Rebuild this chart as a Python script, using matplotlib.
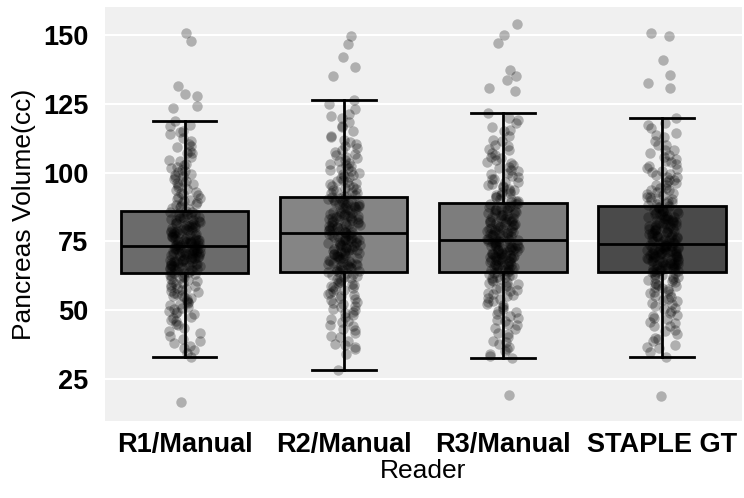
import numpy as np
import pandas as pd
import matplotlib
matplotlib.use('Agg')
import matplotlib.pyplot as plt
import seaborn as sns

readers = ['R1/Manual', 'R2/Manual', 'R3/Manual', 'STAPLE GT']

# volumes (cc), per reader
r1 = [150.7, 147.6, 131.2, 128.6, 127.9, 124.1, 123.4, 118.5, 116.8, 115.2, 113.9, 112.6,
      110.4, 109.1, 107.8, 106.9, 104.7, 103.2, 101.9, 100.8, 100.1, 99.4, 98.7, 97.6,
      96.8, 95.9, 94.7, 93.8, 92.6, 91.9, 90.8, 90.1, 89.3, 88.6, 87.9, 87.2, 86.6,
      86.2, 87.5, 88.1, 89.0, 89.7, 90.4, 91.3, 92.2, 93.1, 94.2, 95.3, 96.2, 97.1, 98.2,
      99.0, 100.4, 101.5, 102.6, 104.0, 105.6, 107.2, 109.6, 111.5, 114.6, 117.4,
      85.4, 84.9, 84.3, 83.8, 83.1, 82.7, 82.2, 81.6, 81.1, 80.7, 80.2, 79.8, 79.3, 78.9,
      78.4, 78.0, 77.6, 77.1, 76.7, 76.3, 75.9, 75.6, 75.2, 74.8, 74.5, 74.1, 73.8, 73.5,
      85.7, 83.5, 80.9, 79.1, 77.3, 75.4, 74.3, 73.6,
      72.9, 72.6, 72.2, 71.9, 71.5, 71.2, 70.8, 70.5, 70.1, 69.8, 69.4, 69.1, 68.7, 68.3,
      67.9, 67.6, 67.2, 66.8, 66.4, 66.1, 65.7, 65.3, 64.9, 64.5, 64.1, 63.7, 72.4, 71.0,
      69.6, 68.1, 66.6, 65.0, 63.9, 70.3, 67.4, 72.8,
      63.6, 64.3, 64.8, 65.2, 65.9, 66.3, 66.9, 67.3, 67.7, 68.0, 68.5, 68.9, 69.3, 69.7,
      70.0, 70.4, 70.7, 71.1, 71.4, 71.7, 72.1, 72.3, 72.7, 73.0, 73.3, 73.7, 74.0, 74.4,
      74.7, 75.0, 75.3, 75.7, 76.0, 76.5, 76.9, 77.4, 77.8, 78.2, 78.7, 79.0, 79.5, 80.0,
      80.4, 80.9, 81.3, 81.8, 82.4, 82.9, 83.4, 84.0, 84.6, 85.1, 85.6, 68.4, 70.9, 73.4,
      75.8, 78.5, 66.0, 71.3,
      63.1, 62.6, 62.0, 61.4, 60.7, 60.1, 59.3, 58.6, 57.9, 57.2, 56.4, 55.6, 54.9, 54.1,
      53.2, 52.3, 51.4, 50.6, 49.5, 48.6, 47.3, 46.2, 45.1, 43.8, 42.4, 40.9, 39.6, 38.2,
      37.0, 35.8, 34.4, 33.3, 16.7,
      63.0, 62.4, 61.8, 61.1, 60.4, 59.7, 58.9, 58.2, 57.5, 56.8, 56.0, 55.2, 54.4, 53.6,
      52.7, 51.8, 50.9, 49.9, 48.9, 47.8, 46.6, 44.6, 42.0, 39.1, 36.4]
r2 = [149.6, 146.4, 142.0, 138.4, 135.1, 126.4, 124.8, 122.9, 121.3, 119.6, 118.2, 116.5,
      114.9, 113.4, 111.8, 110.3, 108.9, 107.6, 106.2, 105.1, 104.0, 103.1, 102.2, 101.3,
      100.4, 99.6, 98.7, 97.9, 97.0, 96.2, 95.5, 94.8, 94.0, 93.3, 92.6, 92.0, 91.6,
      91.8, 92.4, 93.0, 93.7, 94.4, 95.1, 95.8, 96.6, 97.4, 98.2, 99.1, 99.9, 100.8, 101.7,
      102.7, 103.6, 104.6, 105.7, 106.8, 108.1, 109.5, 111.1, 113.0, 116.9, 120.4,
      91.0, 90.5, 89.9, 89.4, 88.8, 88.2, 87.7, 87.1, 86.6, 86.0, 85.5, 84.9, 84.4, 83.8,
      83.3, 82.7, 82.2, 81.6, 81.1, 80.6, 80.1, 79.6, 79.1, 78.6, 78.2, 90.2, 87.4, 84.1,
      82.9, 80.9, 79.3, 78.4, 85.2, 88.5, 81.8, 83.6,
      77.6, 77.2, 76.8, 76.3, 75.9, 75.4, 75.0, 74.5, 74.1, 73.6, 73.2, 72.7, 72.2, 71.8,
      71.3, 70.8, 70.3, 69.8, 69.3, 68.8, 68.3, 67.8, 67.3, 66.7, 66.2, 65.6, 65.0, 64.4,
      76.1, 73.9, 71.5, 69.0, 66.9, 74.8, 70.6, 64.8,
      64.3, 64.9, 65.4, 66.0, 66.5, 67.1, 67.6, 68.1, 68.6, 69.1, 69.6, 70.1, 70.5, 71.0,
      71.5, 72.0, 72.4, 72.9, 73.4, 73.8, 74.3, 74.7, 75.2, 75.7, 76.1, 76.6, 77.0, 77.4,
      77.8, 78.3, 78.8, 79.4, 79.9, 80.4, 80.9, 81.4, 81.9, 82.5, 83.0, 83.5, 84.1, 84.6,
      85.1, 85.7, 86.3, 86.8, 87.4, 87.9, 88.5, 89.1, 89.7, 90.3, 90.9, 70.9, 75.5, 79.8,
      84.3, 88.0, 67.0, 73.0,
      63.8, 63.2, 62.5, 61.9, 61.2, 60.4, 59.7, 58.9, 58.1, 57.3, 56.4, 55.5, 54.6, 53.7,
      52.8, 51.7, 50.6, 49.4, 48.2, 47.0, 45.8, 44.5, 43.1, 41.9, 40.4, 39.0, 38.0, 36.8,
      36.0, 34.2, 28.3,
      63.9, 63.4, 62.8, 62.1, 61.5, 60.8, 60.1, 59.3, 58.5, 57.7, 56.9, 56.0, 55.1, 54.2,
      53.2, 52.2, 51.1, 50.1, 48.9, 47.6, 46.2, 44.8, 42.9, 40.9, 37.4]
r3 = [154.0, 150.0, 147.1, 137.3, 135.1, 133.7, 130.8, 129.7, 121.7, 119.8, 118.1, 116.6,
      114.9, 113.2, 111.7, 110.1, 108.6, 107.2, 105.8, 104.5, 103.3, 102.1, 100.9, 99.8,
      98.7, 97.7, 96.6, 95.6, 94.6, 93.7, 92.8, 91.9, 91.1, 90.3, 89.6, 89.0,
      89.2, 89.8, 90.5, 91.2, 91.9, 92.6, 93.4, 94.2, 95.0, 95.8, 96.7, 97.6, 98.5, 99.5,
      100.5, 101.6, 102.7, 103.9, 105.2, 106.5, 108.0, 109.6, 111.4, 115.5, 118.9,
      88.5, 88.0, 87.5, 87.0, 86.5, 86.0, 85.5, 85.0, 84.5, 84.0, 83.4, 82.9, 82.4, 81.9,
      81.3, 80.8, 80.3, 79.8, 79.2, 78.7, 78.2, 77.7, 77.2, 76.7, 76.2, 75.7, 87.2, 84.7,
      82.1, 80.0, 78.5, 76.9, 75.9, 86.3, 83.1, 79.5,
      75.1, 74.8, 74.4, 74.1, 73.7, 73.4, 73.0, 72.6, 72.2, 71.8, 71.4, 71.0, 70.6, 70.2,
      69.8, 69.3, 68.9, 68.4, 68.0, 67.5, 67.0, 66.5, 66.0, 65.5, 65.0, 64.5, 74.6, 72.9,
      71.2, 69.5, 67.8, 66.2, 64.8, 73.2, 70.4, 68.6,
      64.3, 64.7, 65.2, 65.7, 66.1, 66.6, 67.0, 67.4, 67.9, 68.3, 68.7, 69.1, 69.5, 69.9,
      70.3, 70.7, 71.1, 71.5, 71.9, 72.3, 72.7, 73.1, 73.5, 73.9, 74.3, 74.7, 75.1, 75.5,
      75.9, 76.4, 76.9, 77.4, 77.9, 78.4, 78.9, 79.4, 79.9, 80.5, 81.0, 81.5, 82.0, 82.6,
      83.1, 83.6, 84.2, 84.7, 85.2, 85.8, 86.3, 86.9, 87.4, 88.0, 88.5, 69.2, 72.0, 75.3,
      78.1, 81.7, 66.4, 70.0,
      63.8, 63.2, 62.6, 62.0, 61.3, 60.5, 59.8, 59.0, 58.2, 57.3, 56.4, 55.5, 54.5, 53.4,
      52.3, 51.1, 49.8, 48.6, 47.4, 46.1, 44.7, 43.4, 42.0, 40.5, 39.1, 37.9, 36.6, 35.4,
      34.3, 33.5, 32.6, 19.2,
      63.9, 63.5, 62.9, 62.3, 61.7, 61.0, 60.3, 59.5, 58.7, 57.9, 57.0, 56.1, 55.2, 54.1,
      53.0, 51.9, 50.6, 49.3, 48.0, 46.6, 45.1, 43.5, 41.4, 38.6, 35.9]
staple = [150.4, 149.6, 140.6, 135.5, 132.6, 130.8, 119.6, 117.9, 116.2, 114.4, 112.9, 111.3,
          109.8, 108.3, 106.9, 105.5, 104.2, 103.0, 101.8, 100.6, 99.5, 98.5, 97.4, 96.4,
          95.4, 94.5, 93.6, 92.7, 91.9, 91.1, 90.3, 89.5, 88.8, 88.2,
          88.0, 88.6, 89.3, 89.9, 90.6, 91.3, 92.1, 92.9, 93.7, 94.5, 95.4, 96.3, 97.2, 98.2,
          99.2, 100.2, 101.3, 102.5, 103.7, 105.0, 106.4, 108.0, 109.9, 113.6, 117.1,
          87.4, 86.9, 86.4, 85.9, 85.4, 84.9, 84.4, 83.8, 83.3, 82.8, 82.3, 81.7, 81.2, 80.7,
          80.1, 79.6, 79.1, 78.6, 78.0, 77.5, 77.0, 76.5, 75.9, 75.4, 74.9, 74.4, 86.1, 83.6,
          81.0, 78.8, 76.7, 75.1, 85.1, 82.0, 79.9, 77.8,
          73.7, 73.4, 73.0, 72.7, 72.3, 72.0, 71.6, 71.3, 70.9, 70.6, 70.2, 69.8, 69.4, 69.0,
          68.6, 68.2, 67.8, 67.4, 67.0, 66.6, 66.1, 65.7, 65.3, 64.9, 64.5, 73.2, 71.8, 70.4,
          68.9, 67.2, 65.5, 72.5, 69.6, 66.8, 64.3, 71.0,
          64.3, 64.7, 65.1, 65.5, 65.9, 66.3, 66.7, 67.1, 67.5, 67.9, 68.3, 68.7, 69.1, 69.5,
          69.9, 70.3, 70.7, 71.1, 71.5, 71.9, 72.3, 72.7, 73.1, 73.5, 73.9, 74.2, 74.6, 75.0,
          75.5, 76.0, 76.5, 77.0, 77.5, 78.0, 78.5, 79.0, 79.5, 80.0, 80.6, 81.1, 81.6, 82.1,
          82.7, 83.2, 83.8, 84.3, 84.9, 85.5, 86.0, 86.6, 87.1, 87.5, 68.0, 70.8, 73.3, 76.2,
          79.7, 83.0, 66.5, 71.7,
          63.8, 63.3, 62.7, 62.1, 61.4, 60.7, 60.0, 59.2, 58.4, 57.6, 56.7, 55.8, 54.8, 53.8,
          52.7, 51.6, 50.4, 49.2, 48.0, 46.8, 45.5, 44.2, 42.8, 41.4, 40.1, 38.8, 37.6, 36.3,
          35.0, 33.3, 18.9,
          63.9, 63.4, 62.9, 62.3, 61.7, 61.0, 60.3, 59.6, 58.8, 58.0, 57.1, 56.2, 55.3, 54.3,
          53.3, 52.2, 51.0, 49.8, 48.5, 47.2, 45.8, 44.3, 42.5, 39.8, 36.9]

# box statistics
q1 = [63.4, 64.1, 64.1, 64.1]
med = [73.2, 77.9, 75.4, 74.0]
q3 = [85.9, 91.3, 88.8, 87.7]
whislo = [33.3, 28.3, 32.6, 33.3]
whishi = [118.5, 126.4, 121.7, 119.6]

box_colors = ['#6b6b6b', '#858585', '#7d7d7d', '#4a4a4a']

plt.rcParams['font.family'] = ['Liberation Sans', 'DejaVu Sans']

fig = plt.figure(figsize=(7.44, 4.98), dpi=100)
ax = fig.add_axes([0.141, 0.155, 0.856, 0.831])
ax.set_facecolor('#f0f0f0')

stats = []
for i in range(len(readers)):
    stats.append(dict(med=med[i], q1=q1[i], q3=q3[i], whislo=whislo[i],
                      whishi=whishi[i], fliers=[]))
bp = ax.bxp(stats, positions=range(len(readers)), widths=0.8, patch_artist=True,
            showfliers=False,
            boxprops=dict(linewidth=2, edgecolor='black'),
            medianprops=dict(color='black', linewidth=2),
            whiskerprops=dict(color='black', linewidth=2),
            capprops=dict(color='black', linewidth=2))
for patch, c in zip(bp['boxes'], box_colors):
    patch.set_facecolor(c)

df = pd.DataFrame({
    'Reader': [readers[0]] * len(r1) + [readers[1]] * len(r2)
              + [readers[2]] * len(r3) + [readers[3]] * len(staple),
    'Volume': r1 + r2 + r3 + staple,
})
np.random.seed(3)
sns.stripplot(data=df, x='Reader', y='Volume', order=readers, color='black',
              alpha=0.27, size=7.5, jitter=True, linewidth=0, ax=ax, zorder=3)

ax.set_xlim(-0.5, 3.5)
ax.set_ylim(10, 160)
ax.set_yticks([25, 50, 75, 100, 125, 150])
ax.set_xticks(range(len(readers)))
ax.set_xticklabels(readers)
ax.set_axisbelow(True)
ax.yaxis.grid(True, color='white', linewidth=1.5)
ax.xaxis.grid(False)
for s in ax.spines.values():
    s.set_visible(False)
ax.tick_params(length=0, labelsize=19.5)
ax.tick_params(axis='y', pad=12)
ax.tick_params(axis='x', pad=8)
for lab in ax.get_xticklabels() + ax.get_yticklabels():
    lab.set_fontweight('bold')
ax.set_xlabel('Reader', fontsize=19, labelpad=1)
ax.set_ylabel('Pancreas Volume(cc)', fontsize=19, labelpad=5)

plt.savefig('out.png', dpi=100)
